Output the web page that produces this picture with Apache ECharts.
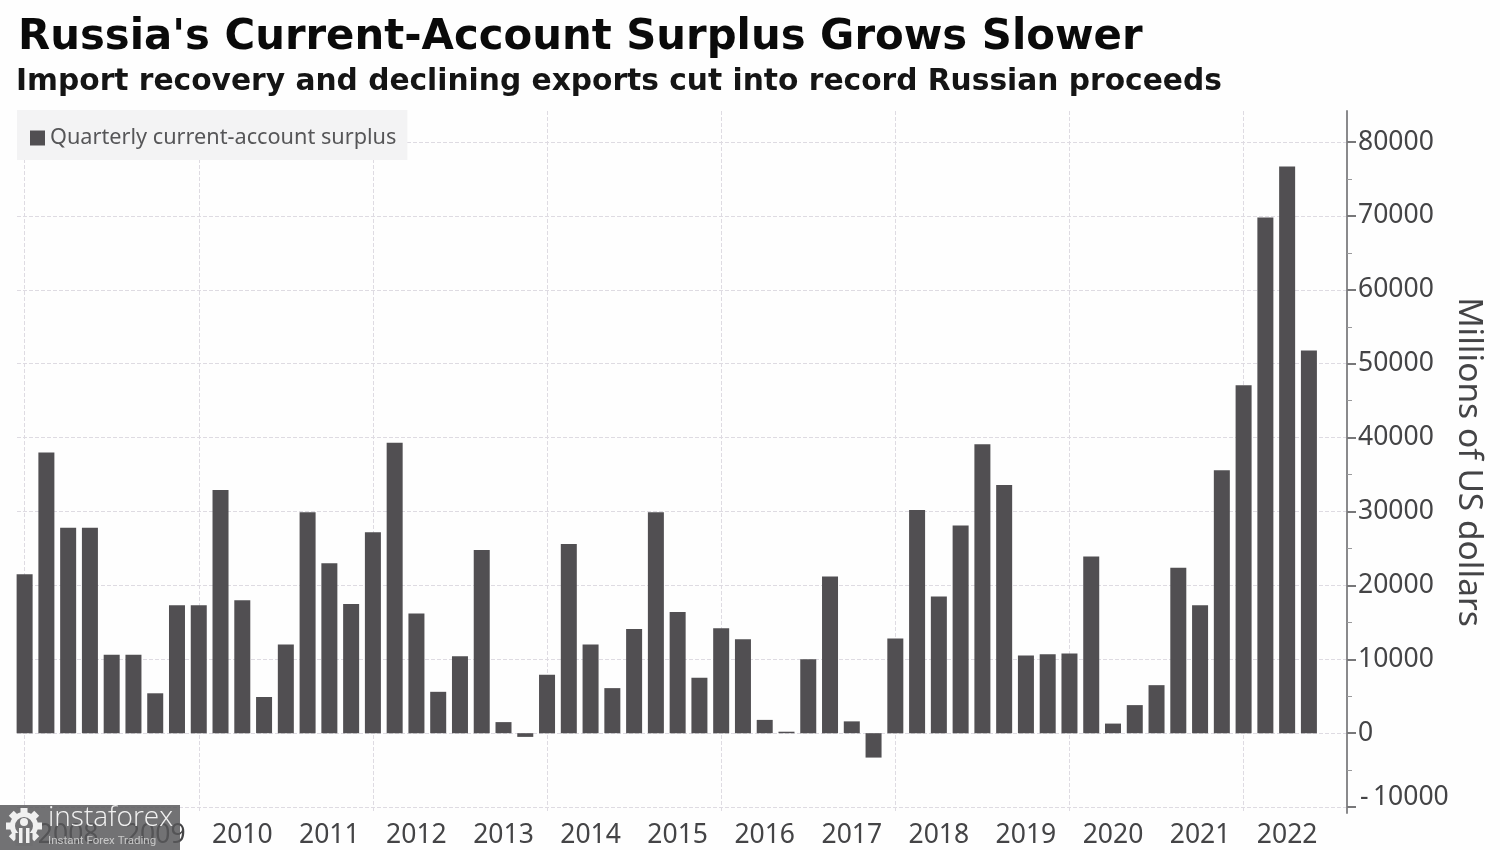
<!DOCTYPE html>
<html><head><meta charset="utf-8">
<style>html,body{margin:0;padding:0;background:#fff}#c{width:1500px;height:850px}</style>
<script src="https://cdn.jsdelivr.net/npm/echarts@6/dist/echarts.min.js"></script>
</head><body><div id="c"></div>
<script>
const titleText = "Russia's Current-Account Surplus Grows Slower";
const subtitleText = "Import recovery and declining exports cut into record Russian proceeds";
const seriesName = "Quarterly current-account surplus";
const yAxisName = "Millions of US dollars";
const years = [2008,2009,2010,2011,2012,2013,2014,2015,2016,2017,2018,2019,2020,2021,2022];
const surplus = [21500,38000,27800,27800,10600,10600,5400,17300,17300,32900,18000,4900,12000,29900,23000,17500,27200,39300,16200,5600,10400,24800,1500,-500,7900,25600,12000,6100,14100,29900,16400,7500,14200,12700,1800,200,10000,21200,1600,-3300,12800,30200,18500,28100,39100,33600,10500,10700,10800,23900,1300,3800,6500,22400,17300,35600,47100,69800,76700,51800];
const yTicks = [-10000,0,10000,20000,30000,40000,50000,60000,70000,80000];
const yMinorTicks = [-5000,5000,15000,25000,35000,45000,55000,65000,75000];
const quarterIdx = surplus.map((_, i) => i);
const gridIdx = years.filter((_, i) => i % 2 === 0).map((_, i) => i * 8);
const labelIdx = years.map((_, i) => i * 4 + 2);

const chart = echarts.init(document.getElementById('c'));
const gridCol = '#dedbe2';
const txt = '#444446';
const labelFont = '"Noto Sans"';

const gearTeeth = [0,45,90,135,180,225,270,315].map(a => ({
  type: 'rect', x: 24, y: 826, originX: 0, originY: 0, rotation: a * Math.PI / 180,
  shape: {x: -3.5, y: -18, width: 7, height: 6}, style: {fill: '#f0f0f0'}, z: 101
}));

chart.setOption({
  backgroundColor: '#fefefe',
  animation: false,
  title: [
    {text: titleText, left: 13, top: 12, textStyle: {fontFamily: '"DejaVu Sans"', fontWeight: 'bold', fontSize: 41.8, color: '#0a0a0a'}},
    {text: subtitleText, left: 11, top: 62, textStyle: {fontFamily: '"DejaVu Sans"', fontWeight: 'bold', fontSize: 29.7, color: '#151515'}}
  ],
  legend: {
    left: 17, top: 110, padding: [17, 11, 11, 13], itemWidth: 15, itemHeight: 15, itemGap: 4,
    backgroundColor: '#f3f3f4', icon: 'rect', data: [seriesName],
    textStyle: {fontFamily: labelFont, fontSize: 21.7, color: '#565658', padding: [0,0,0,0]}
  },
  grid: {left: 17, right: 153, top: 111, bottom: 37, outerBoundsMode: 'none'},
  xAxis: {
    type: 'value', min: -0.35, max: 60.75,
    axisLine: {show: false},
    axisTick: {show: false, customValues: gridIdx},
    splitLine: {show: true, lineStyle: {color: gridCol, type: 'dashed', width: 1}},
    axisLabel: {
      customValues: labelIdx, margin: 9, hideOverlap: false,
      fontFamily: labelFont, fontSize: 26.5, color: txt,
      formatter: v => String(years[(v - 2) / 4])
    }
  },
  yAxis: [
    {
      type: 'value', position: 'right', min: -10800, max: 84200,
      name: yAxisName, nameLocation: 'middle', nameRotate: -90, nameGap: 105, nameMoveOverlap: false,
      nameTextStyle: {fontFamily: labelFont, fontSize: 33.5, color: txt},
      axisLine: {show: true, onZero: false, lineStyle: {color: '#8a8a8c', width: 2}},
      axisTick: {show: true, customValues: yTicks, length: 9, lineStyle: {color: '#777779', width: 2}},
      splitLine: {show: true, lineStyle: {color: gridCol, type: 'dashed', width: 1}},
      axisLabel: {customValues: yTicks, margin: 11, fontFamily: labelFont, fontSize: 26.5, color: txt,
        formatter: v => v < 0 ? '{n|-\u2009' + Math.abs(v) + '}' : String(v),
        rich: {n: {fontFamily: labelFont, fontSize: 26.5, color: txt, padding: [0, 0, 20, 2]}}}
    },
    {
      type: 'value', position: 'right', min: -10800, max: 84200,
      axisLine: {show: false, onZero: false},
      axisTick: {show: true, customValues: yMinorTicks, length: 5, lineStyle: {color: '#9a9a9c', width: 1}},
      splitLine: {show: false}, axisLabel: {show: false}
    }
  ],
  series: [{
    name: seriesName, type: 'bar', clip: false, barWidth: 16,
    itemStyle: {color: '#514f52'},
    data: quarterIdx.map(i => [i, surplus[i]])
  }],
  graphic: [
    {type: 'rect', shape: {x: 0, y: 805, width: 180, height: 45}, style: {fill: 'rgba(87,87,89,0.84)'}, z: 100},
    ...gearTeeth,
    {type: 'ring', shape: {cx: 24, cy: 826, r: 14, r0: 9}, style: {fill: '#f0f0f0'}, z: 101},
    {type: 'rect', shape: {x: 15.5, y: 833, width: 17, height: 13}, style: {fill: '#6f6f71'}, z: 102},
    {type: 'circle', shape: {cx: 24, cy: 822, r: 4}, style: {fill: '#f0f0f0'}, z: 103},
    {type: 'rect', shape: {x: 19, y: 828, width: 3.5, height: 15}, style: {fill: '#f0f0f0'}, z: 103},
    {type: 'rect', shape: {x: 26, y: 828, width: 3.5, height: 15}, style: {fill: '#f0f0f0'}, z: 103},
    {type: 'text', x: 48, y: 804, style: {text: 'instaforex', fill: '#f2f2f2', fontFamily: '"Open Sans"', fontSize: 28, fontWeight: 300}, z: 104},
    {type: 'text', x: 48, y: 835, style: {text: 'Instant Forex Trading', fill: '#c8c8c8', fontFamily: 'Roboto', fontSize: 11.5}, z: 104}
  ]
});
</script></body></html>
